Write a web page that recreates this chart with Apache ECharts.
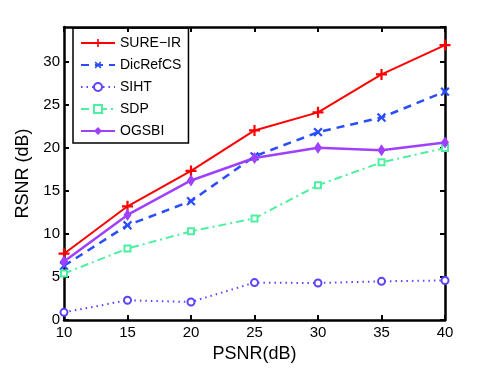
<!DOCTYPE html>
<html>
<head>
<meta charset="utf-8">
<script src="https://cdn.jsdelivr.net/npm/echarts@6/dist/echarts.min.js"></script>
<style>
  html, body { margin: 0; padding: 0; background: #fff; }
  #chart1 { width: 491px; height: 368px; }
</style>
</head>
<body>
<div id="chart1"></div>
<script>
// PSNR (dB) on the x axis
var psnr = [10, 15, 20, 25, 30, 35, 40];
// RSNR (dB) for each method
var sureIR   = [7.7, 13.2, 17.3, 22.0, 24.1, 28.5, 31.9];
var dicRefCS = [6.3, 11.0, 13.8, 19.0, 21.8, 23.5, 26.5];
var siht     = [0.9, 2.3, 2.1, 4.35, 4.3, 4.5, 4.6];
var sdp      = [5.4, 8.3, 10.3, 11.8, 15.65, 18.3, 19.95];
var ogsbi    = [6.8, 12.2, 16.2, 18.8, 20.0, 19.7, 20.6];

(function () {
  var myChart = echarts.init(document.getElementById('chart1'));
  var font = 'Liberation Sans, Arial, Helvetica, sans-serif';
  var plus = 'path://M4,0H6V4H10V6H6V10H4V6H0V4H4Z';

  function pairs(ys) {
    return psnr.map(function (x, i) { return [x, ys[i]]; });
  }

  var option = {
    backgroundColor: '#fff',
    animation: false,
    textStyle: { fontFamily: font },
    grid: { left: 64, right: 46, top: 27, bottom: 46 },
    legend: {
      orient: 'vertical',
      left: 73,
      top: 28,
      padding: [8, 7, 5, 7],
      itemWidth: 34,
      itemHeight: 10,
      itemGap: 8,
      borderColor: '#000',
      borderWidth: 1.5,
      textStyle: { fontSize: 14, color: '#000', fontFamily: font },
      data: ['SURE\u2212IR', 'DicRefCS', 'SIHT', 'SDP', 'OGSBI']
    },
    xAxis: [
      {
        type: 'value', min: 10, max: 40, interval: 5,
        name: 'PSNR(dB)', nameLocation: 'middle', nameGap: 17,
        nameTextStyle: { fontSize: 18, color: '#000' },
        axisLine: { lineStyle: { color: '#000', width: 2.5 } },
        axisTick: { inside: true, length: 5, lineStyle: { color: '#000', width: 2 } },
        axisLabel: { fontSize: 15, color: '#000', margin: 5 },
        splitLine: { show: false }
      },
      {
        type: 'value', min: 10, max: 40, interval: 5, position: 'top',
        axisLine: { onZero: false, lineStyle: { color: '#000', width: 2.5 } },
        axisTick: { inside: true, length: 5, lineStyle: { color: '#000', width: 2 } },
        axisLabel: { show: false },
        splitLine: { show: false }
      }
    ],
    yAxis: [
      {
        type: 'value', min: 0, max: 34, interval: 5,
        name: 'RSNR (dB)', nameLocation: 'middle', nameGap: 22,
        nameTextStyle: { fontSize: 18, color: '#000' },
        axisLine: { show: true, lineStyle: { color: '#000', width: 2.5 } },
        axisTick: { show: true, inside: true, length: 5, lineStyle: { color: '#000', width: 2 } },
        axisLabel: { fontSize: 15, color: '#000', margin: 4, showMaxLabel: false },
        splitLine: { show: false }
      },
      {
        type: 'value', min: 0, max: 34, interval: 5, position: 'right',
        axisLine: { show: true, onZero: false, lineStyle: { color: '#000', width: 2.5 } },
        axisTick: { show: true, inside: true, length: 5, lineStyle: { color: '#000', width: 2 } },
        axisLabel: { show: false },
        splitLine: { show: false }
      }
    ],
    series: [
      {
        name: 'SURE\u2212IR', type: 'line', data: pairs(sureIR),
        symbol: plus, symbolSize: 11,
        lineStyle: { color: '#ff0000', width: 2 },
        itemStyle: { color: '#ff0000' }
      },
      {
        name: 'DicRefCS', type: 'line', data: pairs(dicRefCS),
        symbol: plus, symbolSize: 11, symbolRotate: 45,
        lineStyle: { color: '#2a4dff', width: 2.5, type: [8, 6] },
        itemStyle: { color: '#2a4dff' }
      },
      {
        name: 'SIHT', type: 'line', data: pairs(siht),
        symbol: 'emptyCircle', symbolSize: 7,
        lineStyle: { color: '#5a44ff', width: 2, type: [1.5, 4] },
        itemStyle: { color: '#5a44ff', borderWidth: 2.5 }
      },
      {
        name: 'SDP', type: 'line', data: pairs(sdp),
        symbol: 'emptyRect', symbolSize: 6,
        lineStyle: { color: '#4df0a0', width: 2, type: [8, 4, 2, 4] },
        itemStyle: { color: '#4df0a0', borderWidth: 1.5 }
      },
      {
        name: 'OGSBI', type: 'line', data: pairs(ogsbi),
        symbol: 'diamond', symbolSize: [8, 12],
        lineStyle: { color: '#a040ff', width: 2.5 },
        itemStyle: { color: '#a040ff' }
      }
    ]
  };

  option && myChart.setOption(option);
})();
</script>
</body>
</html>
